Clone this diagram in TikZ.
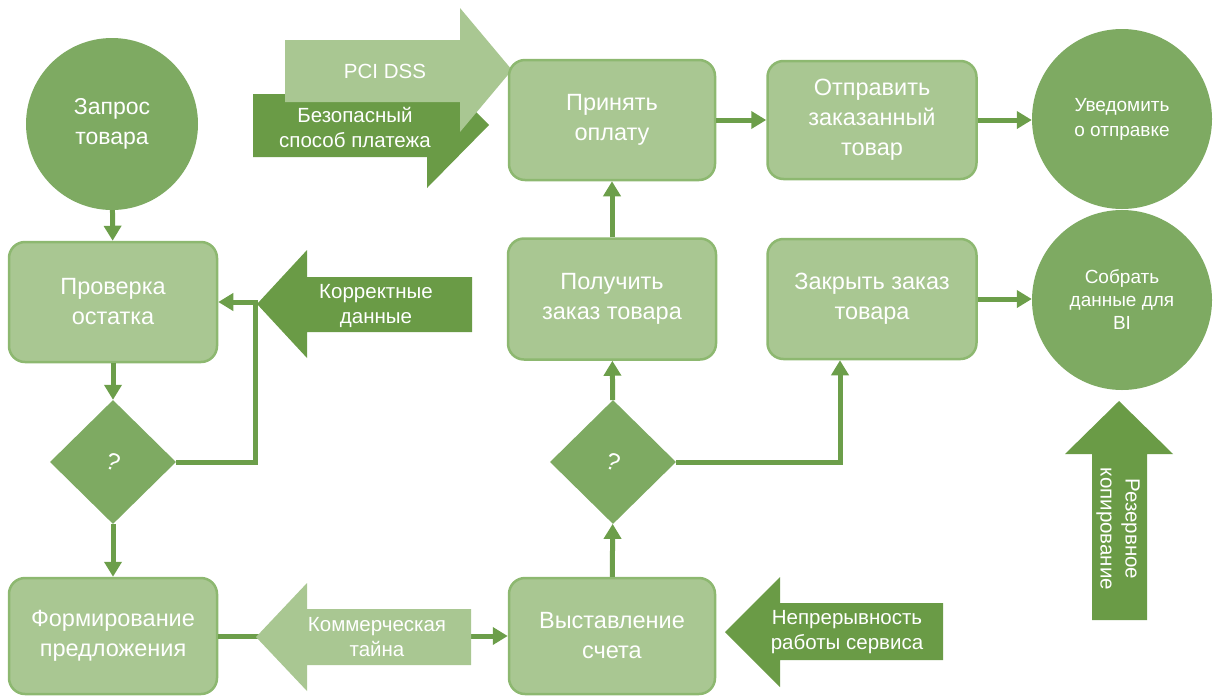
\documentclass[tikz,border=0pt]{standalone}
\usepackage{fontspec}
\usepackage{graphicx}
\setmainfont{Liberation Sans}
\usetikzlibrary{shapes.geometric,arrows.meta}
\definecolor{boxfill}{HTML}{A9C792}
\definecolor{boxline}{HTML}{8DB870}
\definecolor{midgreen}{HTML}{7EAA62}
\definecolor{darkgreen}{HTML}{6A9B46}
\definecolor{linegreen}{HTML}{6C9E4A}

\begin{document}
\begin{tikzpicture}[x=1pt,y=-1pt,
  procbox/.style={rectangle, rounded corners=16pt, draw=boxline, line width=2.5pt,
    fill=boxfill, text=white, align=center, inner sep=0pt,
    font=\fontsize{23.5}{30}\selectfont},
  disc/.style={circle, fill=midgreen, text=white, align=center, inner sep=0pt},
  decision/.style={diamond, fill=midgreen, text=white, inner sep=0pt,
    minimum width=126pt, minimum height=124pt, font=\fontsize{24}{24}\selectfont},
  conn/.style={draw=linegreen, line width=5pt},
  headed/.style={-{Triangle[length=15pt,width=17pt]}},
  darkarrow/.style={fill=darkgreen},
  lightarrow/.style={fill=boxfill},
  arrowtext/.style={text=white, align=center, inner sep=0pt,
    font=\fontsize{20.5}{25}\selectfont},
]
\useasboundingbox (0,0) rectangle (1214,697);

% secure payment / PCI DSS banners
\path[darkarrow] (253,94) -- (427,94) -- (427,62) -- (489,125) -- (427,188)
  -- (427,157) -- (253,157) -- cycle;
\node[arrowtext] (safe) at (355,127) {Безопасный\\способ платежа};
\path[lightarrow] (285,40) -- (460,40) -- (460,8) -- (512,70) -- (460,132)
  -- (460,102) -- (285,102) -- cycle;
\node[arrowtext] (pci) at (385,71) {PCI DSS};

% process steps
\node[disc, minimum size=172pt, font=\fontsize{23}{30}\selectfont]
  (start) at (112,124) {Запрос\\товара};
\node[procbox, minimum width=208pt, minimum height=120pt] (check) at (113,302) {Проверка\\остатка};
\node[decision] (d1) at (113,462) {\rotatebox{-20}{?}};
\node[procbox, minimum width=208pt, minimum height=116pt] (offer) at (113,636) {Формирование\\предложения};
\node[procbox, minimum width=206pt, minimum height=116pt] (invoice) at (612,636) {Выставление\\счета};
\node[decision] (d2) at (613,462) {\rotatebox{-20}{?}};
\node[procbox, minimum width=208pt, minimum height=121pt] (get) at (612,299) {Получить\\заказ товара};
\node[procbox, minimum width=206pt, minimum height=120pt] (pay) at (612,120) {Принять\\оплату};
\node[procbox, minimum width=209pt, minimum height=118pt] (ship) at (872,120) {Отправить\\заказанный\\товар};
\node[procbox, minimum width=209pt, minimum height=120pt] (close) at (872,299) {Закрыть заказ\\товара};
\node[disc, minimum size=180pt, font=\fontsize{19}{25}\selectfont]
  (notify) at (1122,119) {Уведомить\\о отправке};
\node[disc, minimum size=180pt, font=\fontsize{19}{23}\selectfont]
  (bi) at (1122,300) {Собрать\\данные для\\BI};

% connectors
\coordinate (j1) at (255,302);
\coordinate (j2) at (840,462);
\draw[conn, headed] (start) -- (check);
\draw[conn, headed] (check) -- (d1);
\draw[conn, headed] (d1.east) -| (j1) -- (check.east);
\draw[conn, headed] (d1) -- (offer);
\draw[conn, headed] (offer) -- (invoice);
\draw[conn, headed] (invoice) -- (d2);
\draw[conn, headed] (d2) -- (get);
\draw[conn, headed] (get) -- (pay);
\draw[conn, headed] (pay) -- (ship);
\draw[conn, headed] (ship.east) -- (ship.east -| notify.west);
\draw[conn, headed] (close.east) -- (close.east -| bi.west);
\draw[conn, headed] (d2.east) -- (j2) -- (j2 |- close.south);

% side banners
\path[darkarrow] (257,304) -- (307,250) -- (307,277) -- (472,277) -- (472,332)
  -- (307,332) -- (307,358) -- cycle;
\node[arrowtext] (valid) at (376,306) {Корректные\\данные};

\path[lightarrow] (256,637) -- (307,583) -- (307,609) -- (471,609) -- (471,665)
  -- (307,665) -- (307,691) -- cycle;
\node[arrowtext] (secret) at (377,637) {Коммерческая\\тайна};

\path[darkarrow] (725,632) -- (780,577) -- (780,603) -- (943,603) -- (943,660)
  -- (780,660) -- (780,687) -- cycle;
\node[arrowtext] (uptime) at (847,632) {Непрерывность\\работы сервиса};

\path[darkarrow] (1119,401) -- (1173,454) -- (1147,454) -- (1147,620) -- (1092,620)
  -- (1092,454) -- (1065,454) -- cycle;
\node[arrowtext, rotate=-90] (backup) at (1118,529) {Резервное\\копирование};
\end{tikzpicture}
\end{document}
